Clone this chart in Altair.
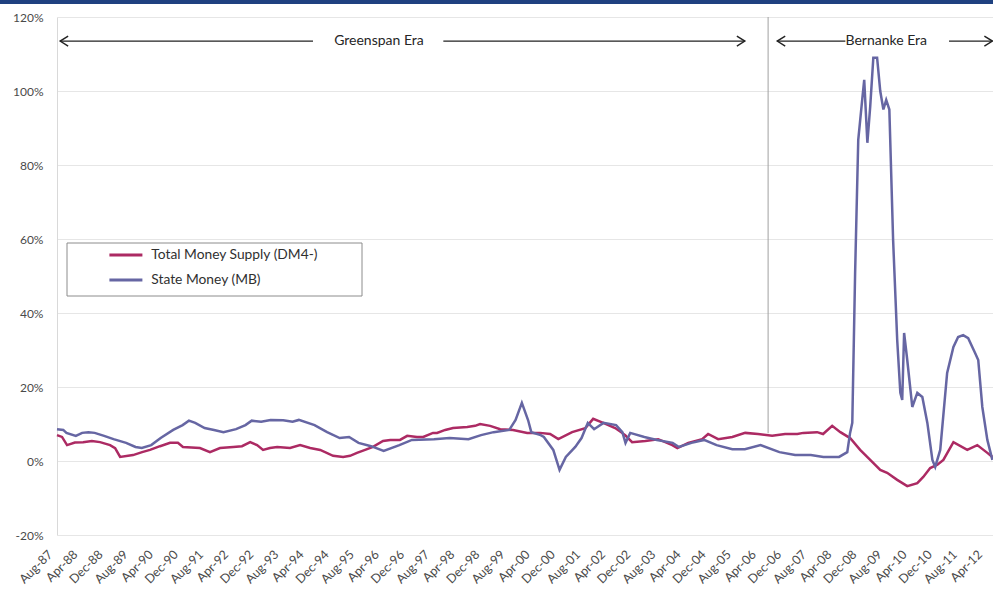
import altair as alt
import pandas as pd

# ---------------- data ----------------
# x positions are months since Aug-1987
dm_month = [0, 1.6, 3.2, 5.7, 8.3, 11.1, 13.7, 16.9, 18.5, 20.1, 24.2, 27.1, 29.6, 32.8,
            36.0, 38.5, 40.1, 45.5, 48.7, 51.9, 56.1, 58.9, 61.5, 63.7, 65.6, 67.8, 70.1,
            74.2, 77.4, 80.6, 83.8, 87.9, 91.1, 93.3, 95.5, 98.1, 100.6, 103.8, 106.1,
            109.2, 111.5, 114.6, 116.6, 119.7, 121.0, 123.6, 126.1, 130.6, 133.1, 134.7,
            137.9, 141.1, 145.2, 149.7, 153.8, 157.0, 159.6, 164.0, 168.2, 170.7, 173.9,
            177.7, 180.9, 183.1, 187.3, 191.4, 195.9, 197.5, 201.0, 205.4, 207.3, 210.5,
            215.0, 219.1, 223.2, 227.7, 231.8, 235.7, 237.6, 242.0, 243.9, 246.8, 249.4,
            252.5, 255.7, 258.9, 262.1, 264.3, 267.5, 270.7, 273.9, 275.8, 278.0, 280.3,
            282.2, 285.4, 289.8, 293.0, 296.2, 297.8]
dm_value = [7.0, 6.5, 4.3, 5.0, 5.1, 5.4, 5.1, 4.3, 3.5, 1.1, 1.6, 2.4, 3.0, 4.0,
            4.9, 4.9, 3.8, 3.5, 2.4, 3.5, 3.8, 4.0, 5.1, 4.3, 3.0, 3.5, 3.8,
            3.5, 4.3, 3.5, 3.0, 1.4, 1.1, 1.4, 2.2, 3.0, 3.8, 5.4, 5.7,
            5.7, 6.8, 6.5, 6.5, 7.6, 7.6, 8.4, 8.9, 9.2, 9.5, 10.0,
            9.5, 8.6, 8.4, 7.6, 7.6, 7.3, 5.9, 7.8, 8.9, 11.4, 10.3,
            8.9, 7.0, 5.1, 5.4, 5.9, 4.3, 3.5, 4.9, 5.9, 7.3, 5.9,
            6.5, 7.6, 7.3, 6.8, 7.3, 7.3, 7.6, 7.8, 7.3, 9.5, 7.8,
            6.2, 3.0, 0.3, -2.4, -3.2, -5.1, -6.8, -6.0, -4.3, -1.9, -1.0,
            0.3, 5.1, 3.0, 4.3, 2.2, 1.1]

mb_month = [0, 2, 3, 6, 8, 10, 12, 15, 18, 22, 25, 27, 30, 33, 37, 40, 42, 44, 47, 50,
            53, 57, 60, 62, 65, 68, 72, 75, 77, 82, 86, 90, 93, 96, 100, 104, 109, 113,
            120, 125, 131, 135, 139, 144, 146, 148, 150, 151, 154, 155, 158, 160, 162,
            165, 167, 169, 171, 174, 178, 180, 181, 182.5, 187, 191, 196, 198, 202, 206,
            210, 215, 219, 224, 230, 235, 240, 244, 249, 251.6, 252.5, 253.2, 254.1,
            255.1, 256.4, 257.0, 258.0, 258.9, 259.9, 261.1, 262.1, 263.1, 264.0, 265.0,
            266.2, 267.5, 268.5, 269.1, 269.7, 270.7, 272.3, 273.9, 275.5, 277.1, 278.7,
            279.6, 281.2, 283.4, 285.4, 286.9, 288.5, 290.1, 292.3, 293.3, 294.6, 296.2,
            297.8]
mb_value = [8.6, 8.4, 7.6, 6.8, 7.6, 7.8, 7.6, 6.8, 5.9, 4.9, 3.8, 3.5, 4.3, 6.2, 8.4,
            9.7, 10.9, 10.3, 8.9, 8.4, 7.8, 8.6, 9.7, 10.9, 10.6, 11.1, 11.0, 10.6, 11.1,
            9.7, 7.8, 6.2, 6.5, 4.9, 4.0, 2.7, 4.3, 5.7, 5.9, 6.2, 5.9, 7.0, 7.8, 8.4,
            11.1, 15.7, 11.0, 7.8, 7.0, 6.5, 3.0, -2.4, 1.1, 3.8, 6.2, 10.3, 8.6, 10.3,
            9.7, 7.8, 4.9, 7.6, 6.5, 5.7, 4.9, 3.8, 4.9, 5.7, 4.3, 3.2, 3.2, 4.3, 2.4,
            1.6, 1.6, 1.1, 1.1, 2.4, 7.6, 10.3, 50.8, 86.8, 98.0, 103.0, 86.0, 95.7,
            109.0, 109.0, 100.0, 95.0, 97.6, 95.0, 59.7, 32.7, 18.4, 16.5, 34.6, 27.3,
            14.6, 18.4, 17.3, 10.3, 0.3, -1.6, 3.0, 23.8, 30.8, 33.5, 34.0, 33.2, 29.2,
            27.3, 14.6, 5.7, 0.3]

series_names = ["Total Money Supply (DM4-)", "State Money (MB)"]
series_colors = ["#AC2A63", "#6666A3"]

tick_months = [0, 8, 16, 24, 32, 40, 48, 56, 64, 72, 80, 88, 96, 104, 112, 120, 128, 136,
               144, 152, 160, 168, 176, 184, 192, 200, 208, 216, 224, 232, 240, 248, 256,
               264, 272, 280, 288, 296]
tick_labels = ["Aug-87", "Apr-88", "Dec-88", "Aug-89", "Apr-90", "Dec-90", "Aug-91", "Apr-92",
               "Dec-92", "Aug-93", "Apr-94", "Dec-94", "Aug-95", "Apr-96", "Dec-96", "Aug-97",
               "Apr-98", "Dec-98", "Aug-99", "Apr-00", "Dec-00", "Aug-01", "Apr-02", "Dec-02",
               "Aug-03", "Apr-04", "Dec-04", "Aug-05", "Apr-06", "Dec-06", "Aug-07", "Apr-08",
               "Dec-08", "Aug-09", "Apr-10", "Dec-10", "Aug-11", "Apr-12"]
y_ticks = [-20, 0, 20, 40, 60, 80, 100, 120]

# era annotations
era_labels = ["Greenspan Era", "Bernanke Era"]
era_label_month = [102.5, 264.0]
arrow_level = 113.5
arrow_from = [1.0, 123.0, 229.3, 284.0]
arrow_to = [81.5, 219.0, 251.0, 297.8]
arrow_head = ["left", "right", "left", "right"]
bernanke_start = 226.4
bernanke_line_bottom = 7.5

# ---------------- build tables ----------------
lines_df = pd.concat([
    pd.DataFrame({"month": dm_month, "value": dm_value, "series": series_names[0], "order": 0}),
    pd.DataFrame({"month": mb_month, "value": mb_value, "series": series_names[1], "order": 1}),
], ignore_index=True)

arrows_df = pd.DataFrame({"x1": arrow_from, "x2": arrow_to, "y": arrow_level, "head": arrow_head})
arrows_df["tip"] = [a if h == "left" else b for a, b, h in zip(arrow_from, arrow_to, arrow_head)]
labels_df = pd.DataFrame({"x": era_label_month, "y": arrow_level, "text": era_labels})
vline_df = pd.DataFrame({"x": [bernanke_start], "y": [120], "y2": [bernanke_line_bottom]})
one_df = pd.DataFrame({"k": [0]})

W, H = 936, 518
FONT = "Lato"

xscale = alt.Scale(domain=[0, 298], nice=False, zero=False)
yscale = alt.Scale(domain=[-20, 120], nice=False, zero=False)

label_js = "[" + ",".join("'%s'" % t for t in tick_labels) + "][round(datum.value/8)]"

x_axis = alt.Axis(values=tick_months, labelExpr=label_js, labelAngle=-45, labelAlign="right",
                  labelBaseline="middle", labelPadding=17, labelOffset=-7, ticks=False,
                  domain=False, grid=False, labelFont=FONT, labelFontSize=12.5,
                  labelColor="#4a4a4a", title=None, labelOverlap=False, labelFlush=False,
                  labelBound=False, labelSeparation=0)
y_axis = alt.Axis(values=y_ticks, labelExpr="datum.value + '%'", ticks=False, domain=True,
                  domainColor="#d9d9d9", grid=True, gridColor="#e6e6e6", labelFont=FONT,
                  labelFontSize=12, labelColor="#4a4a4a", labelPadding=14, title=None)


def X(field):
    return alt.X(field, scale=xscale, axis=x_axis)


def Y(field):
    return alt.Y(field, scale=yscale, axis=y_axis)


top_bar = alt.Chart(one_df).mark_rect(color="#1F4180").encode(
    x=alt.value(-57), x2=alt.value(W), y=alt.value(-17), y2=alt.value(-13))

legend_box = alt.Chart(one_df).mark_rect(fill="white", stroke="#8c8c8c", strokeWidth=1).encode(
    x=alt.value(10), x2=alt.value(305), y=alt.value(226), y2=alt.value(279))

vline = alt.Chart(vline_df).mark_rule(color="#a0a0a0", strokeWidth=1).encode(
    x=X("x:Q"), y=Y("y:Q"), y2="y2:Q")

lines = alt.Chart(lines_df).mark_line(strokeWidth=2.5, interpolate="linear").encode(
    x=X("month:Q"),
    y=Y("value:Q"),
    color=alt.Color("series:N", scale=alt.Scale(domain=series_names, range=series_colors),
                    legend=alt.Legend(orient="none", legendX=62, legendY=231, title=None,
                                      direction="vertical", symbolType="M-3.3,0L3.3,0",
                                      symbolSize=100, symbolStrokeWidth=3, padding=0,
                                      rowPadding=10, labelOffset=18.5, labelFont=FONT,
                                      labelFontSize=13.8, labelColor="#303030", labelLimit=400)),
    detail="series:N",
    order="order:Q",
)

arrow_lines = alt.Chart(arrows_df).mark_rule(color="#222222", strokeWidth=1.2).encode(
    x=X("x1:Q"), x2="x2:Q", y=Y("y:Q"))

left_heads = alt.Chart(arrows_df).transform_filter(alt.datum.head == "left").mark_point(
    shape="M1.6,-1L0,0L1.6,1", filled=False, color="#222222", strokeWidth=1.4, size=100,
    opacity=1).encode(x=X("tip:Q"), y=Y("y:Q"))
right_heads = alt.Chart(arrows_df).transform_filter(alt.datum.head == "right").mark_point(
    shape="M-1.6,-1L0,0L-1.6,1", filled=False, color="#222222", strokeWidth=1.4, size=100,
    opacity=1).encode(x=X("tip:Q"), y=Y("y:Q"))

era_text = alt.Chart(labels_df).mark_text(font=FONT, fontSize=14, color="#262626",
                                          align="center", baseline="middle").encode(
    x=X("x:Q"), y=Y("y:Q"), text="text:N")

chart = alt.layer(top_bar, legend_box, vline, lines, arrow_lines, left_heads, right_heads,
                  era_text).properties(
    width=W, height=H,
    padding={"left": 57, "top": 17, "right": 0, "bottom": 56},
    autosize=alt.AutoSizeParams(type="none"),
    background="white",
).configure_view(stroke=None).configure_axisX(labelOverlap=False)

chart.save("out.html", embed_options={"renderer": "svg", "actions": False})
